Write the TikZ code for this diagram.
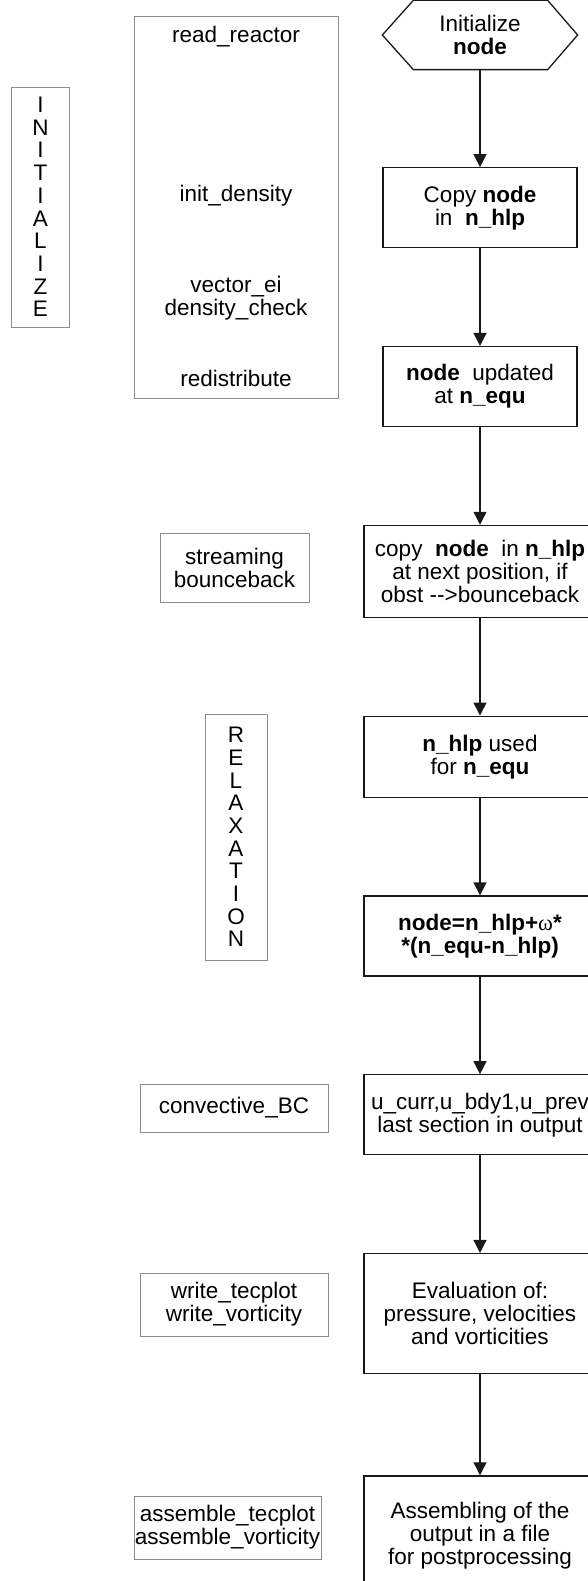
\documentclass[tikz,border=0pt]{standalone}
\usepackage{fontspec}
\setmainfont{Liberation Sans}
\newfontfamily\symbfont{Liberation Serif}
\usetikzlibrary{arrows.meta,positioning}
\definecolor{frame}{RGB}{25,25,25}
\definecolor{subframe}{RGB}{140,140,140}
\tikzset{
  flow/.style={>={Triangle[width=13pt,length=13pt]},line width=1.3pt,draw=frame},
  proc/.style={draw=frame,line width=1.3pt,align=center,inner sep=0pt,
    minimum width=232pt,minimum height=80pt},
  routine/.style={draw=subframe,line width=0.9pt,align=center,inner sep=0pt},
  phase/.style={routine,minimum width=58pt,font=\fontsize{22.5}{22.7}\selectfont},
  lbl/.style={align=center,inner sep=0pt},
}

\begin{document}
\begin{tikzpicture}[flow,x=1pt,y=-1pt,node distance=97.5pt,font=\fontsize{22.5}{23}\selectfont]
\useasboundingbox (0,0) rectangle (587,1581);
% main loop, right column
\node[lbl,minimum width=194pt,minimum height=68pt] (init) at (480,35) {Initialize\\\textbf{node}};
\draw[frame,line width=1.3pt] (init.west) -- ([xshift=31pt]init.north west)
  -- ([xshift=-30pt]init.north east) -- (init.east)
  -- ([xshift=-30pt]init.south east) -- ([xshift=31pt]init.south west) -- cycle;
\node[proc,minimum width=194pt,below=of init] (copy) {Copy \textbf{node}\\in\ \ \textbf{n\_hlp}};
\node[proc,minimum width=194pt,below=of copy] (upd) {\textbf{node}\ \ updated\\at \textbf{n\_equ}};
\node[proc,minimum height=92pt,below=of upd] (stream)
  {copy\ \ \textbf{node}\ \ in \textbf{n\_hlp}\\at next position, if\\obst -{}->bounceback};
\node[proc,minimum height=81pt,below=of stream] (equ) {\textbf{n\_hlp} used\\for \textbf{n\_equ}};
\node[proc,below=of equ] (coll) {\textbf{node=n\_hlp+}{\symbfont ω}\textbf{*}\\\textbf{*(n\_equ-n\_hlp)}};
\node[proc,below=of coll] (conv) {u\_curr,u\_bdy1,u\_prev\\last section in output};
\node[proc,minimum height=120pt,below=of conv] (eval)
  {Evaluation of:\\pressure, velocities\\and vorticities};
\node[proc,minimum height=120pt,below=101pt of eval] (asm)
  {Assembling of the\\output in a file\\for postprocessing};
\foreach \a/\b in {init/copy,copy/upd,upd/stream,stream/equ,equ/coll,coll/conv,conv/eval,eval/asm}
  \draw[->] (\a.south) -- (\b.north);

% phases and routines, left columns
\node[phase,minimum height=240pt] (initph) at (40.5,207) {I\\N\\I\\T\\I\\A\\L\\I\\Z\\E};
\node[routine,minimum width=204pt,minimum height=382pt] (initsub) at (236,207) {};
\node[lbl] (rr) at (236,37) {read\_reactor};
\node[lbl] (idens) at (236,196) {init\_density};
\node[lbl] (vecchk) at (236,298) {vector\_ei\\density\_check};
\node[lbl] (redis) at (236,378) {redistribute};
\node[routine,minimum width=149pt,minimum height=69pt] (strsub) at (234.5,567.5) {streaming\\bounceback};
\node[phase,minimum width=62pt,minimum height=246pt] (relaxph) at (236,837)
  {R\\E\\L\\A\\X\\A\\T\\I\\O\\N};
\node[routine,minimum width=188pt,minimum height=48pt] (convsub) at (234,1108) {convective\_BC};
\node[routine,minimum width=188pt,minimum height=63pt] (wrsub) at (234,1304.5)
  {write\_tecplot\\write\_vorticity};
\node[routine,minimum width=187pt,minimum height=63pt] (asmsub) at (227.5,1527.5)
  {assemble\_tecplot\\assemble\_vorticity};
\end{tikzpicture}
\end{document}
